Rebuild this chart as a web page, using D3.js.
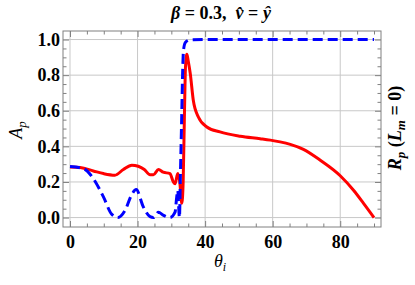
<!DOCTYPE html>
<html>
<head>
<meta charset="utf-8">
<script src="https://cdn.jsdelivr.net/npm/d3@7"></script>
<style>
  body { margin: 0; background: #fff; }
</style>
</head>
<body>
<div id="chart"></div>
<script>
// A_p (solid red), angle in degrees
const apTheta = [0, 3, 6.9, 9.9, 13.3, 15.8, 18.3, 20.2, 22, 23.7, 24.7, 26.2, 27.6, 29.6, 30.6, 31.1, 31.9, 32.5, 33.1, 33.5, 33.9, 34.2, 34.6, 35.0, 35.6, 36.5, 38, 40.5, 44.4, 50.4, 56.3, 59.3, 62.2, 65.2, 69.1, 74.1, 80, 84, 86.9, 90];
const apValue = [0.284, 0.281, 0.262, 0.247, 0.238, 0.27, 0.294, 0.288, 0.27, 0.241, 0.241, 0.27, 0.255, 0.247, 0.2, 0.19, 0.247, 0.2, 0.08, 0.2, 0.6, 0.85, 0.917, 0.88, 0.81, 0.659, 0.565, 0.509, 0.481, 0.457, 0.443, 0.435, 0.425, 0.411, 0.383, 0.322, 0.235, 0.152, 0.08, 0];

// R_p (L_m = 0) (dashed blue)
const rpTheta = [0, 4, 6.9, 9.9, 12.3, 14.2, 16.3, 18.3, 19.6, 21.7, 23.7, 24.7, 26.2, 27.6, 29.6, 31.1, 31.6, 31.9, 32.4, 32.7, 33.0, 33.4, 33.6, 34.2, 35.5, 40, 90];
const rpValue = [0.287, 0.275, 0.219, 0.116, 0.02, 0, 0.04, 0.13, 0.157, 0.06, 0.005, 0, 0.03, 0.014, 0, 0.03, 0.116, 0.153, 0, 0.25, 0.5, 0.85, 0.94, 0.985, 0.998, 1, 1];

const xTicks = [0, 20, 40, 60, 80];
const yTicks = [0, 0.2, 0.4, 0.6, 0.8, 1.0];

const width = 415, height = 285;
const margin = { left: 63, right: 34, top: 31, bottom: 58 };
const innerW = width - margin.left - margin.right;
const innerH = height - margin.top - margin.bottom;
const serif = '"Liberation Serif", "Times New Roman", Tinos, "DejaVu Serif", serif';

const svg = d3.select('#chart').append('svg')
    .attr('width', width)
    .attr('height', height)
    .attr('font-family', serif);

const g = svg.append('g')
    .attr('transform', `translate(${margin.left},${margin.top})`);

const x = d3.scaleLinear().domain([-2.07, 92.07]).range([0, innerW]);
const y = d3.scaleLinear().domain([-0.053, 1.048]).range([innerH, 0]);

// grid lines
g.append('g').selectAll('line').data(xTicks).join('line')
    .attr('x1', d => x(d)).attr('x2', d => x(d))
    .attr('y1', 0).attr('y2', innerH)
    .attr('stroke', '#c8c8c8').attr('stroke-width', 1);
g.append('g').selectAll('line').data(yTicks).join('line')
    .attr('y1', d => y(d)).attr('y2', d => y(d))
    .attr('x1', 0).attr('x2', innerW)
    .attr('stroke', '#c8c8c8').attr('stroke-width', 1);

// ticks: major + minor, on all four sides, pointing in
const xMinor = d3.range(0, 91, 5).filter(v => !xTicks.includes(v));
const yMinor = d3.range(0, 1.001, 0.05).map(v => +v.toFixed(2)).filter(v => !yTicks.includes(v));
const tickCol = '#808080';

g.append('g').attr('transform', `translate(0,${innerH})`)
    .call(d3.axisBottom(x).tickValues(xTicks).tickSizeInner(-6).tickSizeOuter(0).tickPadding(8).tickFormat(d3.format('d')));
g.append('g').attr('transform', `translate(0,${innerH})`)
    .call(d3.axisBottom(x).tickValues(xMinor).tickSizeInner(-3.5).tickSizeOuter(0).tickFormat(''));
g.append('g')
    .call(d3.axisTop(x).tickValues(xTicks).tickSizeInner(-6).tickSizeOuter(0).tickFormat(''));
g.append('g')
    .call(d3.axisTop(x).tickValues(xMinor).tickSizeInner(-3.5).tickSizeOuter(0).tickFormat(''));

g.append('g')
    .call(d3.axisLeft(y).tickValues(yTicks).tickSizeInner(-6).tickSizeOuter(0).tickPadding(3).tickFormat(d3.format('.1f')));
g.append('g')
    .call(d3.axisLeft(y).tickValues(yMinor).tickSizeInner(-3.5).tickSizeOuter(0).tickFormat(''));
g.append('g').attr('transform', `translate(${innerW},0)`)
    .call(d3.axisRight(y).tickValues(yTicks).tickSizeInner(-6).tickSizeOuter(0).tickFormat(''));
g.append('g').attr('transform', `translate(${innerW},0)`)
    .call(d3.axisRight(y).tickValues(yMinor).tickSizeInner(-3.5).tickSizeOuter(0).tickFormat(''));

g.selectAll('.domain').remove();
g.selectAll('.tick line').attr('stroke', tickCol);
g.selectAll('g').attr('font-family', serif);
g.selectAll('.tick text')
    .attr('fill', '#000')
    .attr('font-size', 18)
    .attr('font-weight', 'bold');

// frame
g.append('rect')
    .attr('width', innerW).attr('height', innerH)
    .attr('fill', 'none').attr('stroke', tickCol).attr('stroke-width', 1);

// curves
g.append('clipPath').attr('id', 'clip')
    .append('rect').attr('width', innerW).attr('height', innerH);

const line = d3.line()
    .x(d => x(d[0]))
    .y(d => y(d[1]))
    .curve(d3.curveMonotoneX);

g.append('path')
    .datum(apTheta.map((t, i) => [t, apValue[i]]))
    .attr('clip-path', 'url(#clip)')
    .attr('fill', 'none')
    .attr('stroke', '#ff0000')
    .attr('stroke-width', 3)
    .attr('stroke-linejoin', 'round')
    .attr('d', line);

g.append('path')
    .datum(rpTheta.map((t, i) => [t, rpValue[i]]))
    .attr('clip-path', 'url(#clip)')
    .attr('fill', 'none')
    .attr('stroke', '#0000ff')
    .attr('stroke-width', 3)
    .attr('stroke-dasharray', '10,5')
    .attr('d', line);

// title
const title = svg.append('text')
    .attr('x', 221).attr('y', 19)
    .attr('text-anchor', 'middle')
    .attr('font-size', 18)
    .attr('font-weight', 'bold');
title.append('tspan').attr('font-style', 'italic').text('β');
title.append('tspan').text(' = 0.3,\u00a0\u00a0');
title.append('tspan').attr('font-style', 'italic').text('v\u0302');
title.append('tspan').text(' = ');
title.append('tspan').attr('font-style', 'italic').text('y\u0302');

// x label
const xlab = svg.append('text')
    .attr('x', 220).attr('y', 267)
    .attr('text-anchor', 'middle')
    .attr('font-size', 18)
    .attr('font-style', 'italic');
xlab.append('tspan').text('θ');
xlab.append('tspan').attr('dy', 4).attr('font-size', 12).text('i');

// left y label
const ylab = svg.append('text')
    .attr('transform', 'translate(22,130) rotate(-90)')
    .attr('text-anchor', 'middle')
    .attr('font-size', 18)
    .attr('font-style', 'italic');
ylab.append('tspan').text('A');
ylab.append('tspan').attr('dy', 4).attr('font-size', 13).text('p');

// right y label
const rlab = svg.append('text')
    .attr('transform', 'translate(401,128) rotate(-90)')
    .attr('text-anchor', 'middle')
    .attr('font-size', 18)
    .attr('font-weight', 'bold');
rlab.append('tspan').attr('font-style', 'italic').text('R');
rlab.append('tspan').attr('dy', 4).attr('font-size', 13).attr('font-style', 'italic').text('p');
rlab.append('tspan').attr('dy', -4).text('\u00a0(');
rlab.append('tspan').attr('font-style', 'italic').text('L');
rlab.append('tspan').attr('dy', 4).attr('font-size', 13).attr('font-style', 'italic').text('m');
rlab.append('tspan').attr('dy', -4).text(' = 0)');
</script>
</body>
</html>
